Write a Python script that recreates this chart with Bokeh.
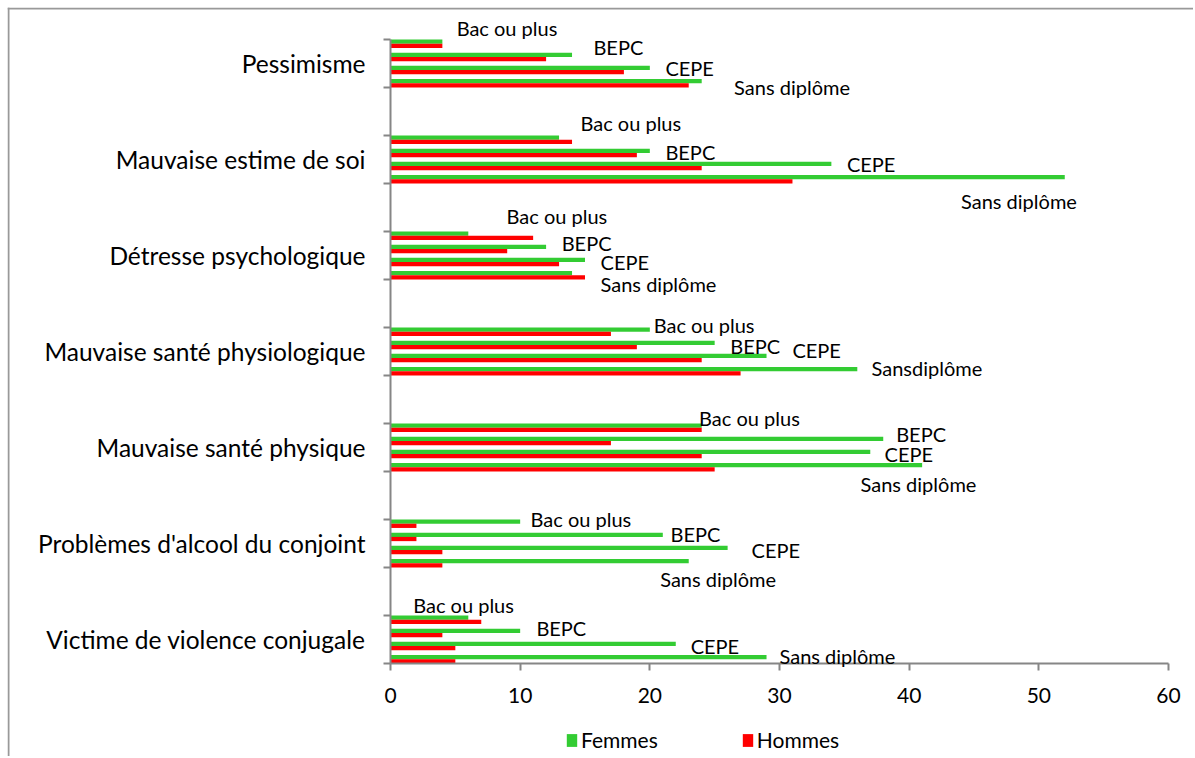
from bokeh.plotting import figure
from bokeh.models import (FixedTicker, ColumnDataSource, LabelSet, Legend,
                          LegendItem, Range1d, Span)
from bokeh.core.properties import value
from bokeh.embed import file_html
from bokeh.resources import INLINE

# ---------------- data (top to bottom as in the picture) ----------------
categories = ["Pessimisme", "Mauvaise estime de soi", "Détresse psychologique",
              "Mauvaise santé physiologique", "Mauvaise santé physique",
              "Problèmes d'alcool du conjoint", "Victime de violence conjugale"]
levels = ["Bac ou plus", "BEPC", "CEPE", "Sans diplôme"]

femmes_pessimisme = [4, 14, 20, 24]
femmes_estime = [13, 20, 34, 52]
femmes_detresse = [6, 12, 15, 14]
femmes_physiologique = [20, 25, 29, 36]
femmes_physique = [24, 38, 37, 41]
femmes_alcool = [10, 21, 26, 23]
femmes_violence = [6, 10, 22, 29]

hommes_pessimisme = [4, 12, 18, 23]
hommes_estime = [14, 19, 24, 31]
hommes_detresse = [11, 9, 13, 15]
hommes_physiologique = [17, 19, 24, 27]
hommes_physique = [24, 17, 24, 25]
hommes_alcool = [2, 2, 4, 4]
hommes_violence = [7, 4, 5, 5]

femmes = [femmes_pessimisme, femmes_estime, femmes_detresse, femmes_physiologique,
          femmes_physique, femmes_alcool, femmes_violence]
hommes = [hommes_pessimisme, hommes_estime, hommes_detresse, hommes_physiologique,
          hommes_physique, hommes_alcool, hommes_violence]

# label texts as printed (one label is written "Sansdiplôme" in the original)
label_texts = [levels, levels, levels,
               ["Bac ou plus", "BEPC", "CEPE", "Sansdiplôme"],
               levels, levels, levels]

x_ticks = [0, 10, 20, 30, 40, 50, 60]
x_max = 60

# ---------------- layout (label anchor positions, data units) ----------------
label_x = [[5.1, 15.65, 21.2, 26.5],
           [14.65, 21.2, 35.2, 44.0],
           [8.95, 13.2, 16.2, 16.2],
           [20.3, 26.2, 31.0, 37.1],
           [23.8, 39.0, 38.1, 36.25],
           [10.8, 21.6, 27.85, 20.8],
           [1.75, 11.25, 23.15, 30.0]]
label_y = [[13.23, 12.85, 12.40, 12.02],
           [11.27, 10.65, 10.40, 9.63],
           [9.33, 8.77, 8.375, 7.90],
           [7.06, 6.625, 6.54, 6.15],
           [5.125, 4.79, 4.375, 3.75],
           [3.02, 2.69, 2.375, 1.77],
           [1.21, 0.73, 0.375, 0.146]]

GREEN = "#33CC33"
RED = "#FF0000"
AXIS = "#868686"
BORDER = "#999999"
FONT = "Lato"

n = len(categories)
n_slots = 2 * n - 1
bar_h = 0.088
step = (1 - 2 * bar_h) / 3

fy, fl, fr, hy, hl, hr = [], [], [], [], [], []
lx, ly, lt = [], [], []
centers, overrides = [], {}
for i, cat in enumerate(categories):
    c = n - 1 - i
    top = 2 * c + 1
    centers.append(2 * c + 0.5)
    overrides[2 * c + 0.5] = cat
    for j in range(len(levels)):
        gtop = top - j * step
        fy.append(gtop - bar_h / 2)
        fl.append(0)
        fr.append(femmes[i][j])
        hy.append(gtop - 1.5 * bar_h)
        hl.append(0)
        hr.append(hommes[i][j])
        lx.append(label_x[i][j])
        ly.append(label_y[i][j])
        lt.append(label_texts[i][j])

# The plotting frame fills the whole canvas; axes sit at x=0 / y=0 inside it.
W, H = 1186, 749
PXX = 778.0 / x_max        # px per x unit
PXY = 48.0                 # px per category slot
left_px = 383              # canvas px left of x = 0
top_px = 32                # canvas px above the top slot
x_lo = -left_px / PXX
x_hi = x_lo + W / PXX
y_hi = n_slots + top_px / PXY
y_lo = y_hi - H / PXY

p = figure(width=W, height=H, output_backend="svg", toolbar_location=None,
           x_range=Range1d(x_lo, x_hi), y_range=Range1d(y_lo, y_hi),
           min_border_left=0, min_border_right=0,
           min_border_top=0, min_border_bottom=0)
p.styles = {"margin-left": "7px", "margin-top": "7px"}
p.outline_line_color = None
p.xgrid.visible = False
p.ygrid.visible = False
p.background_fill_color = "white"
p.border_fill_color = "white"

# chart-area border (top and left edges)
p.add_layout(Span(location=y_hi - 1.0 / PXY, dimension="width",
                  line_color=BORDER, line_width=2))
p.add_layout(Span(location=x_lo + 1.0 / PXX, dimension="height",
                  line_color=BORDER, line_width=2))

rf = p.hbar(y=fy, left=fl, right=fr, height=bar_h, color=GREEN, line_color=None)
rh = p.hbar(y=hy, left=hl, right=hr, height=bar_h, color=RED, line_color=None)

# x axis at y = 0
xa = p.xaxis[0]
xa.fixed_location = 0
xa.bounds = (0, x_max)
xa.ticker = FixedTicker(ticks=x_ticks, minor_ticks=[])
xa.axis_line_color = AXIS
xa.axis_line_width = 2
xa.major_tick_line_color = AXIS
xa.major_tick_line_width = 2
xa.major_tick_out = 7
xa.major_tick_in = 0
xa.minor_tick_line_color = None
xa.major_label_text_font = FONT
xa.major_label_text_font_size = "21px"
xa.major_label_text_color = "black"
xa.major_label_standoff = 17

# y axis at x = 0: ticks at slot boundaries (minor), labels at slot centers
ya = p.yaxis[0]
ya.fixed_location = 0
ya.bounds = (0, n_slots)
ya.ticker = FixedTicker(ticks=centers, minor_ticks=list(range(n_slots + 1)))
ya.major_label_overrides = overrides
ya.axis_line_color = AXIS
ya.axis_line_width = 2
ya.major_tick_line_color = None
ya.major_tick_out = 0
ya.major_tick_in = 0
ya.minor_tick_line_color = AXIS
ya.minor_tick_line_width = 2
ya.minor_tick_out = 7
ya.minor_tick_in = 0
ya.major_label_text_font = FONT
ya.major_label_text_font_size = "24.5px"
ya.major_label_text_color = "black"
ya.major_label_standoff = 18

src = ColumnDataSource(dict(x=lx, y=ly, t=lt))
labels = LabelSet(x="x", y="y", text="t", source=src, text_font=value(FONT),
                  text_font_size=value("20px"), text_baseline="middle",
                  text_align="left", text_color="black")
p.add_layout(labels)

legend = Legend(items=[LegendItem(label="Femmes", renderers=[rf]),
                       LegendItem(label="Hommes", renderers=[rh])],
                orientation="horizontal", location=(558, 4),
                glyph_width=13, glyph_height=16, label_standoff=3,
                spacing=83, padding=0, margin=0,
                border_line_color=None, background_fill_alpha=0,
                label_text_font=FONT, label_text_font_size="21px",
                label_text_color="black")
p.add_layout(legend, "center")

open("out.html", "w").write(file_html(p, INLINE))
